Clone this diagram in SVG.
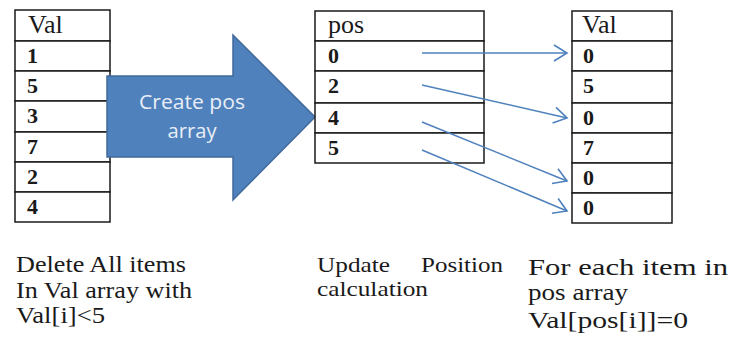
<svg xmlns="http://www.w3.org/2000/svg" width="732" height="341" viewBox="0 0 732 341">
  <defs>
    <style>
      .cell { fill: #ffffff; stroke: #1a1a1a; stroke-width: 1.5; }
      .hdr { font-family: "Liberation Serif", "DejaVu Serif", serif; font-size: 26px; fill: #1a1a1a; }
      .num { font-family: "Liberation Serif", "DejaVu Serif", serif; font-size: 22px; font-weight: bold; fill: #1a1a1a; }
      .cap { font-family: "Liberation Serif", "DejaVu Serif", serif; font-size: 23px; fill: #1a1a1a; }
      .capU { font-family: "Liberation Serif", "DejaVu Serif", serif; font-size: 21px; fill: #1a1a1a; }
      .capR { font-family: "Liberation Serif", "DejaVu Serif", serif; font-size: 23px; fill: #1a1a1a; }
      .big { fill: #4f81bd; stroke: #41699b; stroke-width: 1.5; }
      .bigtxt { font-family: "Open Sans", "DejaVu Sans", sans-serif; font-size: 20px; fill: #e9eef6; text-anchor: middle; }
      .link { fill: none; stroke: #4f81bd; stroke-width: 1.5; }
    </style>
    <marker id="open" markerUnits="userSpaceOnUse" markerWidth="18" markerHeight="20" refX="15" refY="10" orient="auto">
      <path d="M2,2 L15,10 L2,18" fill="none" stroke="#4f81bd" stroke-width="1.6"/>
    </marker>
  </defs>

  <!-- source value array -->
  <g id="val-source">
    <rect class="cell" x="15" y="10" width="95" height="31"/>
    <rect class="cell" x="15" y="41" width="95" height="30"/>
    <rect class="cell" x="15" y="71" width="95" height="30"/>
    <rect class="cell" x="15" y="101" width="95" height="31"/>
    <rect class="cell" x="15" y="132" width="95" height="30"/>
    <rect class="cell" x="15" y="162" width="95" height="30"/>
    <rect class="cell" x="15" y="192" width="95" height="30"/>
    <text class="hdr" x="28" y="33">Val</text>
    <text class="num" x="27" y="63">1</text>
    <text class="num" x="27" y="93">5</text>
    <text class="num" x="27" y="123">3</text>
    <text class="num" x="27" y="154">7</text>
    <text class="num" x="27" y="184">2</text>
    <text class="num" x="27" y="214">4</text>
  </g>

  <!-- block arrow -->
  <g id="create-pos">
    <path class="big" d="M107,76 L233,76 L233,35 L315,117 L233,200 L233,157 L107,157 Z"/>
    <text class="bigtxt" x="192" y="109" textLength="106" lengthAdjust="spacingAndGlyphs">Create pos</text>
    <text class="bigtxt" x="192" y="138" textLength="49" lengthAdjust="spacingAndGlyphs">array</text>
  </g>

  <!-- position array -->
  <g id="pos-array">
    <rect class="cell" x="315" y="11" width="169" height="30"/>
    <rect class="cell" x="315" y="41" width="169" height="30"/>
    <rect class="cell" x="315" y="71" width="169" height="32"/>
    <rect class="cell" x="315" y="103" width="169" height="30"/>
    <rect class="cell" x="315" y="133" width="169" height="30"/>
    <text class="hdr" x="328" y="33">pos</text>
    <text class="num" x="328" y="63">0</text>
    <text class="num" x="328" y="93">2</text>
    <text class="num" x="328" y="125">4</text>
    <text class="num" x="328" y="155">5</text>
  </g>

  <!-- result value array -->
  <g id="val-result">
    <rect class="cell" x="572" y="11" width="100" height="30"/>
    <rect class="cell" x="572" y="41" width="100" height="30"/>
    <rect class="cell" x="572" y="71" width="100" height="32"/>
    <rect class="cell" x="572" y="103" width="100" height="30"/>
    <rect class="cell" x="572" y="133" width="100" height="30"/>
    <rect class="cell" x="572" y="163" width="100" height="30"/>
    <rect class="cell" x="572" y="193" width="100" height="30"/>
    <text class="hdr" x="582" y="33">Val</text>
    <text class="num" x="583" y="63">0</text>
    <text class="num" x="583" y="93">5</text>
    <text class="num" x="583" y="125">0</text>
    <text class="num" x="583" y="155">7</text>
    <text class="num" x="583" y="185">0</text>
    <text class="num" x="583" y="215">0</text>
  </g>

  <!-- pos entries pointing at the cells they clear -->
  <g id="connectors">
    <line class="link" x1="422" y1="53" x2="567" y2="53" marker-end="url(#open)"/>
    <line class="link" x1="422" y1="85" x2="567" y2="118" marker-end="url(#open)"/>
    <line class="link" x1="422" y1="122" x2="567" y2="181" marker-end="url(#open)"/>
    <line class="link" x1="422" y1="150" x2="567" y2="211" marker-end="url(#open)"/>
  </g>

  <!-- step captions -->
  <g id="caption-delete">
    <text class="cap" x="16" y="272" textLength="170" lengthAdjust="spacingAndGlyphs">Delete All items</text>
    <text class="cap" x="16" y="298" textLength="176" lengthAdjust="spacingAndGlyphs">In Val array with</text>
    <text class="cap" x="16" y="323" textLength="89" lengthAdjust="spacingAndGlyphs">Val[i]&lt;5</text>
  </g>
  <g id="caption-update">
    <text class="capU" x="317" y="272" textLength="73" lengthAdjust="spacingAndGlyphs">Update</text>
    <text class="capU" x="503" y="272" text-anchor="end" textLength="82" lengthAdjust="spacingAndGlyphs">Position</text>
    <text class="capU" x="317" y="296" textLength="111" lengthAdjust="spacingAndGlyphs">calculation</text>
  </g>
  <g id="caption-clear">
    <text class="capR" x="528" y="275" textLength="200" lengthAdjust="spacingAndGlyphs">For each item in</text>
    <text class="capR" x="528" y="300" textLength="100" lengthAdjust="spacingAndGlyphs">pos array</text>
    <text class="capR" x="528" y="328" textLength="160" lengthAdjust="spacingAndGlyphs">Val[pos[i]]=0</text>
  </g>
</svg>
